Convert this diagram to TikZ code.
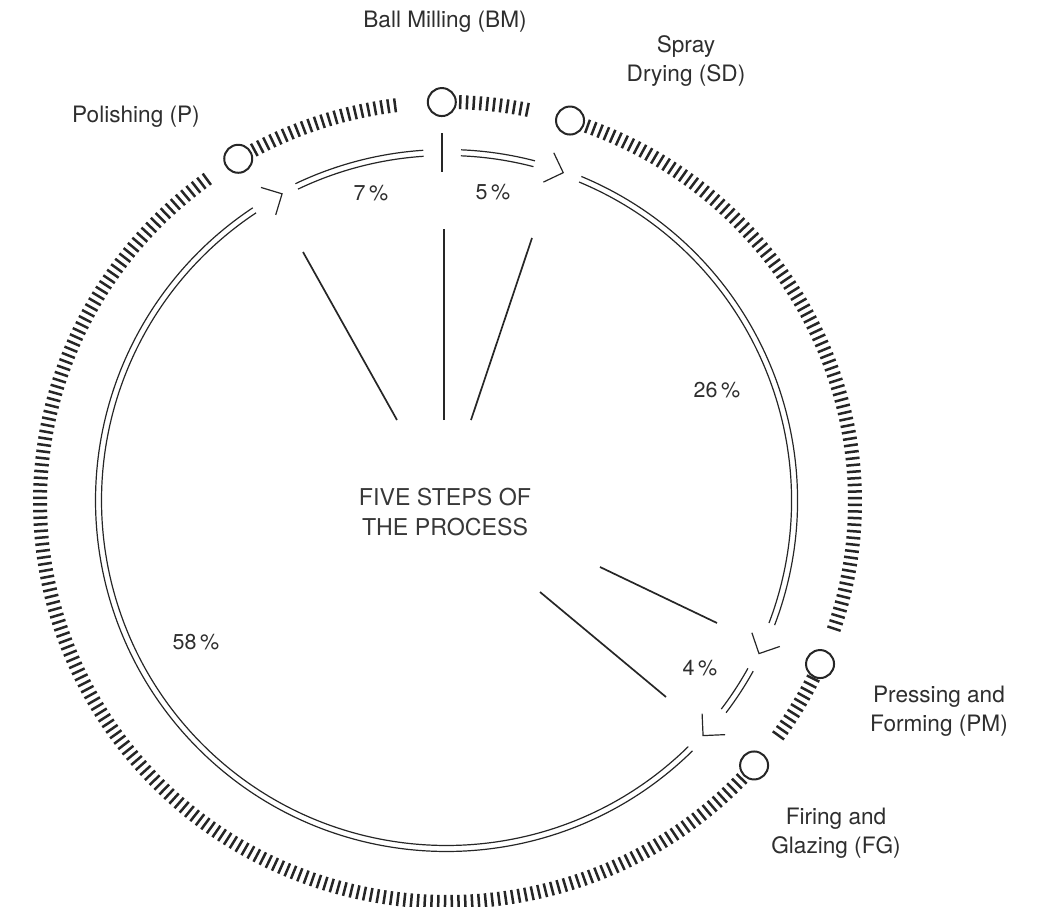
\documentclass[tikz,border=0pt]{standalone}
\usepackage{fontspec}
\setmainfont{TeX Gyre Heros}
\usetikzlibrary{calc}

\definecolor{ink}{HTML}{262626}
\definecolor{txt}{HTML}{2E2E2E}
\definecolor{softtxt}{HTML}{383838}

% outer (ticked) ring: semi-axes
\def\orx{407.5}
\def\ory{400}
% inner (double) ring radii
\def\ira{345}
\def\irb{351}

\tikzset{
  ring/.style={draw=ink, line width=1.2pt},
  tickmark/.style={draw=ink, line width=2.5pt},
  spoke/.style={draw=ink, line width=1.7pt},
  barmark/.style={draw=ink, line width=1.6pt},
  station/.style={circle, draw=ink, line width=2pt, fill=white,
                  minimum size=28pt, inner sep=0pt},
  lbl/.style={text=txt, font=\fontsize{22.6}{29.5}\selectfont, align=center, inner sep=0pt},
  pct/.style={text=txt, font=\fontsize{21.5}{25}\selectfont, inner sep=0pt},
  title/.style={text=softtxt, font=\fontsize{23.2}{30}\selectfont, align=center, inner sep=0pt},
}

% radial ticks along the outer ring, from angle #1 down to angle #2
\newcommand\tickrun[2]{%
  \pgfmathsetmacro\tksecond{#1-0.95}%
  \foreach \a in {#1,\tksecond,...,#2}{%
    \draw[tickmark] ($(O)+({(\orx-7)*cos(\a)},{(\ory-7)*sin(\a)})$) --
                    ($(O)+({(\orx+7)*cos(\a)},{(\ory+7)*sin(\a)})$);}}

% one double-line section of the inner ring
\newcommand\duoarc[2]{%
  \draw[ring] ($(I)+(#1:\ira)$) arc[start angle=#1, end angle=#2, radius=\ira];
  \draw[ring] ($(I)+(#1:\irb)$) arc[start angle=#1, end angle=#2, radius=\irb];}

% open chevron on the inner ring pointing clockwise, vertex at angle #1
\newcommand\chevron[1]{%
  \draw[ring, line join=miter] ($(I)+(#1:348)+(#1+45:22)$) -- ($(I)+(#1:348)$) -- ($(I)+(#1:348)+(#1+135:22)$);}

\begin{document}
\begin{tikzpicture}[x=1pt, y=1pt]
\useasboundingbox (0,0) rectangle (1042,-907);

\coordinate (O) at (447.5,-502);
\coordinate (I) at (446.5,-500.5);

% ---- outer ticked ring ----
\tickrun{88.2}{78}
\tickrun{69.9}{-18.6}
\tickrun{-26.2}{-36}
\tickrun{-43.8}{-233.8}
\tickrun{118.3}{96.5}

% ---- process stations ----
\node[station] (BM) at ($(O)+({\orx*cos(90.8)},{\ory*sin(90.8)})$) {};
\node[station] (SD) at ($(O)+({\orx*cos(72.5)},{\ory*sin(72.5)})$) {};
\node[station] (PM) at ($(O)+({\orx*cos(-23.9)},{\ory*sin(-23.9)})$) {};
\node[station] (FG) at ($(O)+({\orx*cos(-41.2)},{\ory*sin(-41.2)})$) {};
\node[station] (P)  at ($(O)+({\orx*cos(120.9)},{\ory*sin(120.9)})$) {};

% ---- inner double ring with flow markers ----
\duoarc{115.5}{93.8}
\duoarc{87.6}{75.4}
\duoarc{67.4}{-20.8}
\duoarc{-29.1}{-37.2}
\duoarc{-45.5}{-236.5}

\draw[barmark] (442,-133) -- (442,-172);
\chevron{70.4}
\chevron{-26.1}
\chevron{-42.5}
\chevron{118.2}

% ---- spokes from the centre ----
\draw[spoke] (397,-420) -- (303,-252);
\draw[spoke] (444,-420) -- (444,-229);
\draw[spoke] (471,-420) -- (532,-238);
\draw[spoke] (600,-567) -- (717,-623);
\draw[spoke] (540,-592) -- (666,-697);

% ---- labels ----
\node[title] (centre) at (445,-512) {FIVE STEPS OF\\THE PROCESS};

\node[lbl] (tBM) at (445,-22)  {Ball Milling (BM)};
\node[lbl] (tSD) at (686,-61)  {Spray\\Drying (SD)};
\node[lbl] (tP)  at (136,-117) {Polishing (P)};
\node[lbl] (tPM) at (939,-711) {Pressing and\\Forming (PM)};
\node[lbl] (tFG) at (836,-833) {Firing and\\Glazing (FG)};

\node[pct] (p7)  at (371,-193) {7\,\%};
\node[pct] (p5)  at (493,-192) {5\,\%};
\node[pct] (p26) at (717,-390) {26\,\%};
\node[pct] (p4)  at (700,-668) {4\,\%};
\node[pct] (p58) at (196,-642) {58\,\%};
\end{tikzpicture}
\end{document}
